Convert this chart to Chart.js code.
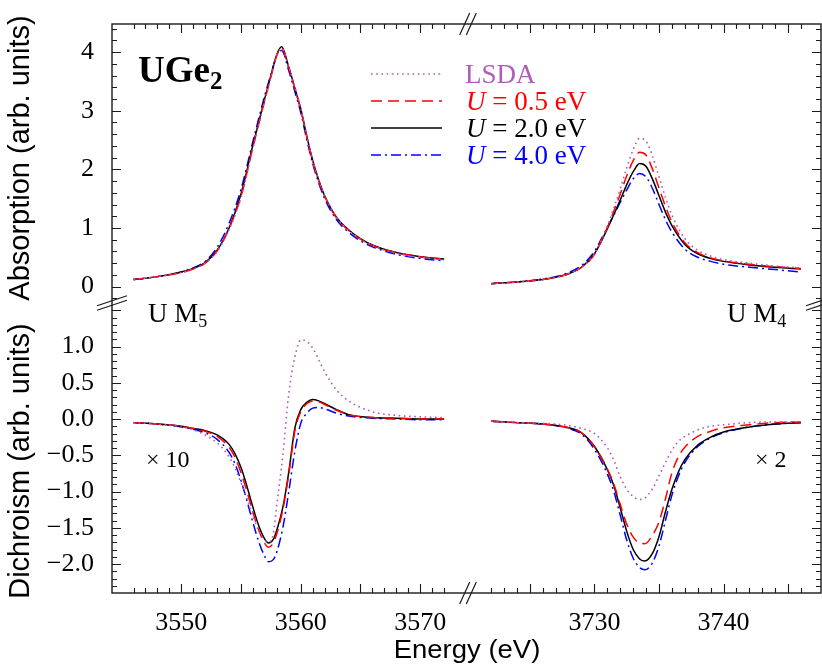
<!DOCTYPE html>
<html>
<head>
<meta charset="utf-8">
<script src="https://cdn.jsdelivr.net/npm/chart.js@4.4.1/dist/chart.umd.min.js"></script>
<style>
  html, body { margin: 0; padding: 0; background: #fff; }
  #chart { display: block; }
</style>
</head>
<body>
<canvas id="chart" width="822" height="664"></canvas>
<script>
// series names, in drawing order
const seriesNames = ["LSDA", "U = 0.5 eV", "U = 2.0 eV", "U = 4.0 eV"];

// tick labels
const absTicks = [0, 1, 2, 3, 4];
const dichTicks = [1.0, 0.5, 0.0, -0.5, -1.0, -1.5, -2.0];
const m5Ticks = [3550, 3560, 3570];
const m4Ticks = [3730, 3740];

// U M5 absorption
const m5AbsEnergy = [3546, 3548, 3550, 3551, 3552, 3553, 3554, 3555, 3556, 3556.5, 3557, 3557.5, 3558, 3558.4, 3559, 3559.5, 3560, 3560.5, 3561, 3561.5, 3562, 3563, 3564, 3565, 3566, 3568, 3570, 3572];
const m5AbsLSDA = [0.12, 0.17, 0.24, 0.30, 0.40, 0.60, 0.97, 1.52, 2.36, 2.77, 3.18, 3.57, 3.94, 4.06, 3.75, 3.41, 3.04, 2.58, 2.15, 1.82, 1.55, 1.18, 0.96, 0.81, 0.70, 0.57, 0.50, 0.46];
const m5AbsU05 = [0.12, 0.17, 0.24, 0.30, 0.40, 0.61, 0.99, 1.54, 2.38, 2.79, 3.19, 3.58, 3.95, 4.07, 3.73, 3.38, 3.02, 2.56, 2.14, 1.81, 1.54, 1.17, 0.96, 0.81, 0.70, 0.58, 0.51, 0.46];
const m5AbsU20 = [0.12, 0.17, 0.25, 0.31, 0.41, 0.62, 1.00, 1.58, 2.42, 2.82, 3.22, 3.60, 3.96, 4.09, 3.74, 3.39, 3.03, 2.57, 2.15, 1.82, 1.55, 1.18, 0.97, 0.82, 0.71, 0.58, 0.51, 0.47];
const m5AbsU40 = [0.12, 0.17, 0.25, 0.32, 0.43, 0.67, 1.08, 1.66, 2.48, 2.88, 3.27, 3.62, 3.94, 4.03, 3.68, 3.33, 2.97, 2.51, 2.10, 1.77, 1.50, 1.14, 0.93, 0.78, 0.68, 0.55, 0.48, 0.44];

// U M4 absorption
const m4AbsEnergy = [3722, 3724, 3726, 3727, 3728, 3729, 3730, 3730.5, 3731, 3731.5, 3732, 3732.5, 3733, 3733.5, 3734, 3734.5, 3735, 3735.5, 3736, 3737, 3738, 3739, 3740, 3742, 3744, 3746];
const m4AbsLSDA = [0.05, 0.08, 0.12, 0.16, 0.22, 0.33, 0.56, 0.78, 1.04, 1.34, 1.67, 2.03, 2.34, 2.53, 2.48, 2.22, 1.87, 1.52, 1.22, 0.82, 0.62, 0.52, 0.46, 0.40, 0.35, 0.32];
const m4AbsU05 = [0.05, 0.08, 0.12, 0.16, 0.22, 0.33, 0.55, 0.77, 1.01, 1.29, 1.58, 1.89, 2.15, 2.29, 2.24, 2.00, 1.68, 1.37, 1.10, 0.75, 0.58, 0.49, 0.44, 0.38, 0.34, 0.31];
const m4AbsU20 = [0.05, 0.08, 0.12, 0.16, 0.22, 0.33, 0.56, 0.76, 0.99, 1.23, 1.48, 1.74, 1.96, 2.10, 2.05, 1.83, 1.55, 1.27, 1.04, 0.72, 0.56, 0.48, 0.43, 0.37, 0.33, 0.30];
const m4AbsU40 = [0.05, 0.08, 0.13, 0.17, 0.24, 0.36, 0.60, 0.80, 1.01, 1.22, 1.44, 1.65, 1.84, 1.93, 1.87, 1.67, 1.40, 1.14, 0.93, 0.64, 0.50, 0.43, 0.38, 0.33, 0.29, 0.25];

// U M5 dichroism (x10)
const m5DichEnergy = [3546, 3548, 3550, 3551, 3552, 3553, 3554, 3554.5, 3555, 3555.5, 3556, 3556.5, 3557, 3557.3, 3557.7, 3558, 3558.5, 3559, 3559.5, 3560, 3560.5, 3561, 3561.5, 3562, 3563, 3564, 3566, 3568, 3570, 3572];
const m5DichLSDA = [-0.05, -0.07, -0.11, -0.15, -0.22, -0.33, -0.52, -0.68, -0.88, -1.10, -1.34, -1.55, -1.67, -1.70, -1.58, -1.18, -0.50, 0.35, 0.85, 1.09, 1.07, 0.98, 0.82, 0.65, 0.40, 0.25, 0.10, 0.05, 0.03, 0.02];
const m5DichU05 = [-0.05, -0.07, -0.10, -0.13, -0.17, -0.24, -0.39, -0.53, -0.74, -1.00, -1.29, -1.54, -1.72, -1.77, -1.71, -1.58, -1.25, -0.76, -0.17, 0.10, 0.21, 0.25, 0.24, 0.20, 0.12, 0.06, 0.02, 0.01, 0.00, 0.00];
const m5DichU20 = [-0.05, -0.07, -0.10, -0.13, -0.16, -0.22, -0.35, -0.48, -0.67, -0.93, -1.22, -1.48, -1.66, -1.71, -1.66, -1.53, -1.22, -0.73, -0.13, 0.13, 0.23, 0.27, 0.25, 0.21, 0.13, 0.06, 0.02, 0.01, 0.00, 0.00];
const m5DichU40 = [-0.05, -0.07, -0.11, -0.14, -0.19, -0.28, -0.46, -0.62, -0.85, -1.13, -1.43, -1.70, -1.90, -1.97, -1.94, -1.83, -1.50, -1.00, -0.45, -0.06, 0.08, 0.15, 0.16, 0.14, 0.08, 0.04, 0.01, 0.00, -0.01, -0.01];

// U M4 dichroism (x2)
const m4DichEnergy = [3722, 3724, 3726, 3727, 3728, 3729, 3730, 3731, 3731.5, 3732, 3732.5, 3733, 3733.5, 3733.9, 3734.5, 3735, 3735.5, 3736, 3736.5, 3737, 3738, 3739, 3740, 3742, 3744, 3746];
const m4DichLSDA = [-0.03, -0.05, -0.06, -0.07, -0.09, -0.13, -0.20, -0.40, -0.57, -0.80, -0.97, -1.07, -1.11, -1.09, -0.96, -0.78, -0.60, -0.43, -0.31, -0.24, -0.15, -0.10, -0.08, -0.05, -0.04, -0.04];
const m4DichU05 = [-0.03, -0.05, -0.07, -0.09, -0.12, -0.19, -0.38, -0.69, -0.90, -1.18, -1.45, -1.63, -1.71, -1.72, -1.60, -1.42, -1.10, -0.74, -0.52, -0.39, -0.24, -0.17, -0.12, -0.08, -0.05, -0.04];
const m4DichU20 = [-0.03, -0.05, -0.07, -0.09, -0.12, -0.19, -0.38, -0.70, -0.92, -1.23, -1.55, -1.80, -1.93, -1.96, -1.85, -1.62, -1.28, -0.97, -0.73, -0.56, -0.36, -0.25, -0.18, -0.11, -0.07, -0.05];
const m4DichU40 = [-0.03, -0.05, -0.07, -0.09, -0.13, -0.21, -0.42, -0.76, -1.00, -1.33, -1.67, -1.92, -2.05, -2.08, -1.98, -1.75, -1.40, -1.05, -0.79, -0.60, -0.38, -0.26, -0.19, -0.11, -0.07, -0.05];

const styles = [
    { color: "#b05cb9", dash: [1.6, 3.6], width: 1.6 },
    { color: "#ff0000", dash: [11, 6], width: 1.5 },
    { color: "#000000", dash: [], width: 1.5 },
    { color: "#0000ff", dash: [10, 4, 2, 4], width: 1.5 }
];

const SERIF = "'Liberation Serif', 'Times New Roman', serif";
const SANS = "'Liberation Sans', Arial, sans-serif";

function pts(xs, ys) {
    return xs.map((x, i) => ({ x: x, y: ys[i] }));
}

const panels = [
    { x: "xM5", y: "yAbs", energy: m5AbsEnergy, series: [m5AbsLSDA, m5AbsU05, m5AbsU20, m5AbsU40] },
    { x: "xM4", y: "yAbs", energy: m4AbsEnergy, series: [m4AbsLSDA, m4AbsU05, m4AbsU20, m4AbsU40] },
    { x: "xM5", y: "yDich", energy: m5DichEnergy, series: [m5DichLSDA, m5DichU05, m5DichU20, m5DichU40] },
    { x: "xM4", y: "yDich", energy: m4DichEnergy, series: [m4DichLSDA, m4DichU05, m4DichU20, m4DichU40] }
];

const datasets = [];
panels.forEach(p => {
    p.series.forEach((ys, k) => {
        datasets.push({
            label: seriesNames[k],
            data: pts(p.energy, ys),
            xAxisID: p.x,
            yAxisID: p.y,
            borderColor: styles[k].color,
            borderDash: styles[k].dash,
            borderWidth: styles[k].width,
            pointRadius: 0,
            fill: false,
            cubicInterpolationMode: "monotone"
        });
    });
});

function fixTicks(values) {
    return function (scale) {
        scale.ticks = values.map(v => ({ value: v }));
    };
}

function yAxis(min, max, weight, order, ticks, fmt) {
    return {
        type: "linear", position: "left", stack: "y", stackWeight: weight, weight: order,
        min: min, max: max,
        grid: { display: false }, border: { display: false },
        afterBuildTicks: fixTicks(ticks),
        afterFit: s => { s.width = 112; s.paddingTop = 0; s.paddingBottom = 0; },
        ticks: { font: { family: SERIF, size: 26 }, color: "#000", padding: 10, autoSkip: false, callback: fmt }
    };
}

function xAxis(min, max, weight, order, ticks) {
    return {
        type: "linear", position: "bottom", stack: "x", stackWeight: weight, weight: order,
        min: min, max: max,
        grid: { display: false }, border: { display: false },
        afterBuildTicks: fixTicks(ticks),
        afterFit: s => { s.height = 71; s.paddingLeft = 0; s.paddingRight = 0; },
        ticks: { font: { family: SERIF, size: 26 }, color: "#000", padding: 7, maxRotation: 0, autoSkip: false, callback: v => String(v) }
    };
}

// frame, inward ticks and axis breaks
const TICK_MAJOR = 9, TICK_MINOR = 5;
const framePlugin = {
    id: "frame",
    afterDatasetsDraw(chart) {
        const ctx = chart.ctx, a = chart.chartArea, s = chart.scales;
        ctx.save();
        ctx.strokeStyle = "#1a1a1a";
        ctx.lineWidth = 1.4;
        ctx.setLineDash([]);
        ctx.strokeRect(a.left, a.top, a.right - a.left, a.bottom - a.top);

        ctx.lineWidth = 1.1;
        ctx.beginPath();
        function isMajor(v, every) {
            return Math.abs(v / every - Math.round(v / every)) < 1e-6;
        }
        function yTicks(scale, step, every) {
            const n0 = Math.ceil(scale.min / step + 0.3), n1 = Math.floor(scale.max / step - 0.3);
            for (let n = n0; n <= n1; n++) {
                const v = n * step;
                const p = Math.round(scale.getPixelForValue(v)) + 0.5;
                const len = isMajor(v, every) ? TICK_MAJOR : TICK_MINOR;
                ctx.moveTo(a.left, p); ctx.lineTo(a.left + len, p);
                ctx.moveTo(a.right, p); ctx.lineTo(a.right - len, p);
            }
        }
        function xTicks(scale, energy, step, every) {
            const lo = Math.min(...energy), hi = Math.max(...energy);
            for (let v = Math.ceil(lo); v <= hi; v += step) {
                const p = Math.round(scale.getPixelForValue(v)) + 0.5;
                const len = isMajor(v, every) ? TICK_MAJOR : TICK_MINOR;
                ctx.moveTo(p, a.bottom); ctx.lineTo(p, a.bottom - len);
                ctx.moveTo(p, a.top); ctx.lineTo(p, a.top + len);
            }
        }
        yTicks(s.yAbs, 0.2, 1);
        yTicks(s.yDich, 0.1, 0.5);
        xTicks(s.xM5, m5AbsEnergy, 1, 5);
        xTicks(s.xM4, m4AbsEnergy, 1, 5);
        ctx.stroke();

        // break marks
        const yb = s.yAbs.bottom, xb = s.xM5.right;
        ctx.lineWidth = 1.2;
        ctx.beginPath();
        [-2.2, 2.2].forEach(o => {
            ctx.moveTo(a.left - 15, yb + 5 + o); ctx.lineTo(a.left + 15, yb - 5 + o);
            ctx.moveTo(a.right - 15, yb + 5 + o); ctx.lineTo(a.right + 15, yb - 5 + o);
        });
        [-3.3, 3.3].forEach(o => {
            ctx.moveTo(xb - 5 + o, a.top + 11); ctx.lineTo(xb + 5 + o, a.top - 11);
            ctx.moveTo(xb - 5 + o, a.bottom + 11); ctx.lineTo(xb + 5 + o, a.bottom - 11);
        });
        ctx.stroke();
        ctx.restore();
    }
};

function drawRuns(ctx, x, y, runs) {
    ctx.textAlign = "left";
    ctx.textBaseline = "alphabetic";
    runs.forEach(r => {
        ctx.font = r.font;
        ctx.fillStyle = r.color || "#000";
        ctx.fillText(r.text, x, y + (r.dy || 0));
        x += ctx.measureText(r.text).width;
    });
}

const textPlugin = {
    id: "texts",
    afterDraw(chart) {
        const ctx = chart.ctx;
        ctx.save();

        drawRuns(ctx, 138, 82, [
            { text: "UGe", font: "bold 37px " + SERIF },
            { text: "2", font: "bold 25px " + SERIF, dy: 7 }
        ]);

        // legend
        const rows = [74, 101, 128, 155];
        seriesNames.forEach((name, k) => {
            const y = rows[k];
            ctx.strokeStyle = styles[k].color;
            ctx.lineWidth = styles[k].width;
            ctx.setLineDash(styles[k].dash);
            ctx.beginPath();
            ctx.moveTo(371, y); ctx.lineTo(442, y);
            ctx.stroke();
            ctx.setLineDash([]);
            const c = styles[k].color;
            if (name.charAt(0) === "U") {
                drawRuns(ctx, 466, y + 9, [
                    { text: "U", font: "italic 27px " + SERIF, color: c },
                    { text: name.slice(1), font: "27px " + SERIF, color: c }
                ]);
            } else {
                drawRuns(ctx, 465, y + 9, [{ text: name, font: "27px " + SERIF, color: c }]);
            }
        });

        drawRuns(ctx, 148, 322, [
            { text: "U M", font: "27px " + SERIF },
            { text: "5", font: "18px " + SERIF, dy: 5 }
        ]);
        drawRuns(ctx, 727, 322, [
            { text: "U M", font: "27px " + SERIF },
            { text: "4", font: "18px " + SERIF, dy: 5 }
        ]);
        drawRuns(ctx, 146, 467, [{ text: "\u00d7 10", font: "24px " + SERIF }]);
        drawRuns(ctx, 755, 467, [{ text: "\u00d7 2", font: "24px " + SERIF }]);

        // axis titles
        ctx.fillStyle = "#000";
        ctx.font = "25px " + SANS;
        ctx.textAlign = "center";
        ctx.textBaseline = "alphabetic";
        ctx.save();
        ctx.translate(467, 658);
        ctx.scale(1.1, 1);
        ctx.fillText("Energy (eV)", 0, 0);
        ctx.restore();

        ctx.font = "29px " + SANS;
        ctx.textBaseline = "middle";
        ctx.save();
        ctx.translate(21, 158);
        ctx.rotate(-Math.PI / 2);
        ctx.fillText("Absorption (arb. units)", 0, 0);
        ctx.restore();
        ctx.save();
        ctx.translate(21, 461);
        ctx.rotate(-Math.PI / 2);
        ctx.fillText("Dichroism (arb. units)", 0, 0);
        ctx.restore();

        ctx.restore();
    }
};

new Chart(document.getElementById("chart"), {
    type: "line",
    data: { datasets: datasets },
    options: {
        responsive: false,
        animation: false,
        devicePixelRatio: 1,
        layout: { padding: { top: 24, right: 1, left: 0, bottom: 0 } },
        plugins: { legend: { display: false }, tooltip: { enabled: false } },
        scales: {
            yAbs: yAxis(-0.28, 4.48, 279, 2, absTicks, v => String(v)),
            yDich: yAxis(-2.4, 1.6, 290, 1, dichTicks, v => (v < 0 ? "\u2212" : "") + Math.abs(v).toFixed(1)),
            xM5: xAxis(3544.2, 3574.0, 356, 1, m5Ticks),
            xM4: xAxis(3720.2, 3747.55, 353, 2, m4Ticks)
        }
    },
    plugins: [framePlugin, textPlugin]
});
</script>
</body>
</html>
